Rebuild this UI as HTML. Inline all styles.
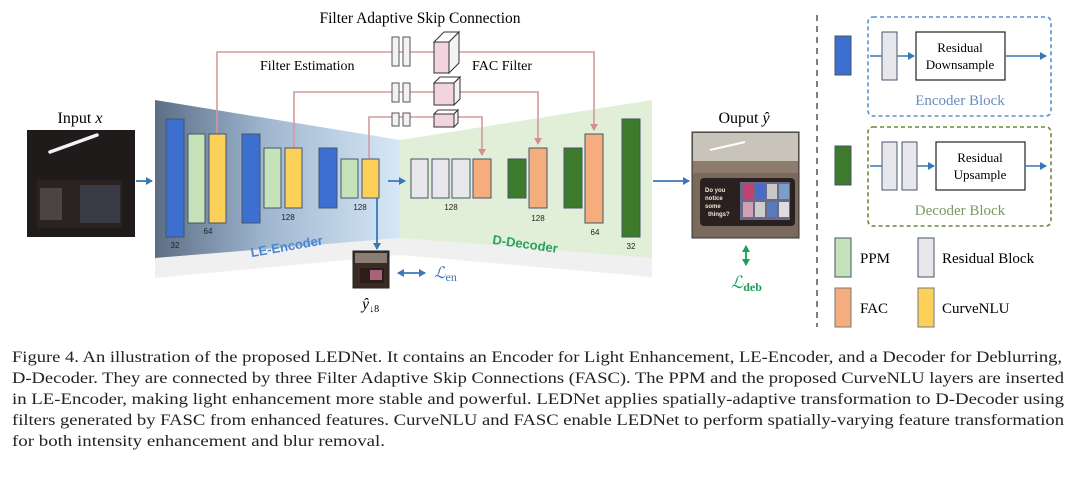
<!DOCTYPE html>
<html><head><meta charset="utf-8"><style>
html,body{margin:0;padding:0;background:#fff;width:1080px;height:477px;overflow:hidden}
svg{display:block}
text{font-family:"Liberation Serif",serif}
text.s{font-family:"Liberation Sans",sans-serif}
</style></head><body>
<svg width="1080" height="477" viewBox="0 0 1080 477" xmlns="http://www.w3.org/2000/svg">
<defs>
<linearGradient id="enc" x1="0" x2="1" y1="0" y2="0">
<stop offset="0" stop-color="#5c6e86"/><stop offset="0.45" stop-color="#9fb6cf"/><stop offset="1" stop-color="#d6e8f7"/></linearGradient>
<marker id="ab" markerWidth="8" markerHeight="8" refX="6" refY="4" orient="auto" markerUnits="userSpaceOnUse"><path d="M0,0 L7,4 L0,8 Z" fill="#3a78b5"/></marker>
<marker id="ar" markerWidth="8" markerHeight="8" refX="6" refY="4" orient="auto" markerUnits="userSpaceOnUse"><path d="M0,0 L7,4 L0,8 Z" fill="#d48f8f"/></marker>
<marker id="ag" markerWidth="8" markerHeight="8" refX="6" refY="4" orient="auto-start-reverse" markerUnits="userSpaceOnUse"><path d="M0,0 L7,4 L0,8 Z" fill="#1f9e5a"/></marker>
<marker id="ab2" markerWidth="8" markerHeight="8" refX="6" refY="4" orient="auto-start-reverse" markerUnits="userSpaceOnUse"><path d="M0,0 L7,4 L0,8 Z" fill="#3a78b5"/></marker>
</defs>

<polygon points="155,258 400,238 400,255 155,278" fill="#f0f0f0"/>
<polygon points="400,238 652,258 652,277 400,255" fill="#f0f0f0"/>
<polygon points="155,100 400,140 400,238 155,258" fill="url(#enc)"/>
<polygon points="400,140 652,100 652,258 400,238" fill="#e1efd9"/>

<g stroke="#d49a9a" stroke-width="1.6" fill="none">
<polyline points="217,133 217,52 594,52 594,130" marker-end="url(#ar)"/>
<polyline points="294,147 294,92 538,92 538,144" marker-end="url(#ar)"/>
<polyline points="369,158 369,117 482,117 482,155" marker-end="url(#ar)"/>
</g>
<g fill="#f2f2f2" stroke="#555" stroke-width="1">
<rect x="392" y="37" width="7" height="29"/><rect x="403" y="37" width="7" height="29"/>
<rect x="392" y="83" width="7" height="19"/><rect x="403" y="83" width="7" height="19"/>
<rect x="392" y="113" width="7" height="13"/><rect x="403" y="113" width="7" height="13"/>
</g>
<g stroke="#333" stroke-width="1">
<polygon points="434,42 444,32 459,32 449,42" fill="#fff"/><polygon points="449,42 459,32 459,63 449,73" fill="#f3f3f3"/>
<rect x="434" y="42" width="15" height="31" fill="#f1d4dc"/>
<polygon points="434,83 440,77 460,77 454,83" fill="#fff"/><polygon points="454,83 460,77 460,99 454,105" fill="#f3f3f3"/>
<rect x="434" y="83" width="20" height="22" fill="#f1d4dc"/>
<polygon points="434,114 438,110 458,110 454,114" fill="#fff"/><polygon points="454,114 458,110 458,123 454,127" fill="#f3f3f3"/>
<rect x="434" y="114" width="20" height="13" fill="#f1d4dc"/>
</g>

<text x="420" y="23" font-size="15.5" text-anchor="middle">Filter Adaptive Skip Connection</text>
<text x="260" y="70" font-size="14">Filter Estimation</text>
<text x="472" y="70" font-size="14">FAC Filter</text>

<g stroke="#44556a" stroke-width="1">
<rect x="166" y="119" width="18" height="118" fill="#3c6fd0"/>
<rect x="188" y="134" width="17" height="89" fill="#c6e2b8"/>
<rect x="209" y="134" width="17" height="89" fill="#fdd05a"/>
<rect x="242" y="134" width="18" height="89" fill="#3c6fd0"/>
<rect x="264" y="148" width="17" height="60" fill="#c6e2b8"/>
<rect x="285" y="148" width="17" height="60" fill="#fdd05a"/>
<rect x="319" y="148" width="18" height="60" fill="#3c6fd0"/>
<rect x="341" y="159" width="17" height="39" fill="#c6e2b8"/>
<rect x="362" y="159" width="17" height="39" fill="#fdd05a"/>
<rect x="411" y="159" width="17" height="39" fill="#e8e8ec"/>
<rect x="432" y="159" width="17" height="39" fill="#e8e8ec"/>
<rect x="452" y="159" width="18" height="39" fill="#e8e8ec"/>
<rect x="473" y="159" width="18" height="39" fill="#f5ad7e"/>
<rect x="508" y="159" width="18" height="39" fill="#3e7a2c"/>
<rect x="529" y="148" width="18" height="60" fill="#f5ad7e"/>
<rect x="564" y="148" width="18" height="60" fill="#3e7a2c"/>
<rect x="585" y="134" width="18" height="89" fill="#f5ad7e"/>
<rect x="622" y="119" width="18" height="118" fill="#3e7a2c"/>
</g>
<g font-size="8" fill="#222" text-anchor="middle">
<text class="s" x="175" y="248">32</text><text class="s" x="208" y="234">64</text><text class="s" x="288" y="220">128</text>
<text class="s" x="360" y="210">128</text><text class="s" x="451" y="210">128</text><text class="s" x="538" y="221">128</text>
<text class="s" x="595" y="235">64</text><text class="s" x="631" y="249">32</text>
</g>
<text class="s" x="250" y="252" font-size="13" fill="#4a86d0" font-weight="bold" transform="rotate(-10 280 246)">LE-Encoder</text>
<text class="s" x="492" y="248" font-size="13" fill="#2aa160" font-weight="bold" transform="rotate(8 522 246)">D-Decoder</text>

<g stroke="#3a78b5" stroke-width="1.8" fill="none">
<line x1="136" y1="181" x2="152" y2="181" marker-end="url(#ab)"/>
<line x1="388" y1="181" x2="405" y2="181" marker-end="url(#ab)"/>
<line x1="653" y1="181" x2="689" y2="181" marker-end="url(#ab)"/>
<line x1="377" y1="198" x2="377" y2="249" marker-end="url(#ab)"/>
<line x1="398" y1="273" x2="425" y2="273" marker-end="url(#ab2)" marker-start="url(#ab2)"/>
</g>
<line x1="746" y1="246" x2="746" y2="265" stroke="#1f9e5a" stroke-width="1.8" marker-end="url(#ag)" marker-start="url(#ag)"/>

<rect x="353" y="251" width="36" height="37" fill="#3a2b22" stroke="#222"/>
<rect x="355" y="253" width="32" height="10" fill="#8a7d73"/>
<rect x="360" y="268" width="24" height="15" fill="#2a1d1a"/>
<rect x="370" y="270" width="12" height="10" fill="#a7637a"/>
<text x="434" y="278" font-size="16" fill="#3a78b5" font-style="italic">ℒ<tspan font-size="12" font-style="normal" dy="3">en</tspan></text>
<text x="362" y="309" font-size="16" font-style="italic">ŷ<tspan font-size="10" font-style="normal" dy="3">↓8</tspan></text>

<text x="80" y="123" font-size="16" text-anchor="middle">Input <tspan font-style="italic">x</tspan></text>
<rect x="27" y="130" width="108" height="107" fill="#1e1b1a"/>
<line x1="50" y1="152" x2="97" y2="135" stroke="#f2f2f2" stroke-width="3.5" stroke-linecap="round"/>
<rect x="37" y="180" width="85" height="48" fill="#2a2321"/>
<rect x="40" y="188" width="22" height="32" fill="#4a4442"/>
<rect x="80" y="185" width="40" height="38" fill="#3a3c45"/>
<text x="744" y="123" font-size="16" text-anchor="middle">Ouput <tspan font-style="italic">ŷ</tspan></text>
<rect x="692" y="132" width="107" height="106" fill="#7a6a5c" stroke="#333"/>
<rect x="693" y="133" width="105" height="28" fill="#c9c4bb"/>
<line x1="710" y1="150" x2="745" y2="142" stroke="#fff" stroke-width="2"/>
<rect x="693" y="161" width="105" height="12" fill="#8d7b6b"/>
<rect x="700" y="178" width="95" height="48" rx="4" fill="#2a2020"/>
<rect x="740" y="182" width="50" height="38" fill="#6a6a88"/>
<rect x="743" y="184" width="10" height="15" fill="#c04070"/><rect x="755" y="184" width="10" height="15" fill="#4a6ac8"/><rect x="767" y="184" width="10" height="15" fill="#c8c8c8"/><rect x="779" y="184" width="10" height="15" fill="#7aa0c8"/>
<rect x="743" y="202" width="10" height="15" fill="#d0a0b0"/><rect x="755" y="202" width="10" height="15" fill="#ccc"/><rect x="767" y="202" width="10" height="15" fill="#5a7ab8"/><rect x="779" y="202" width="10" height="15" fill="#ddd"/>
<g fill="#eee8d0" font-size="6" font-weight="bold"><text class="s" x="705" y="192">Do you</text><text class="s" x="705" y="200">notice</text><text class="s" x="705" y="208">some</text><text class="s" x="708" y="216">things?</text></g>
<text x="731" y="288" font-size="17" fill="#1f9e5a" font-style="italic">ℒ<tspan font-size="12" font-style="normal" font-weight="bold" dy="3">deb</tspan></text>

<line x1="817" y1="15" x2="817" y2="327" stroke="#555" stroke-width="1.5" stroke-dasharray="6,5"/>
<rect x="835" y="36" width="16" height="39" fill="#3c6fd0" stroke="#44556a"/>
<rect x="868" y="17" width="183" height="99" rx="5" fill="none" stroke="#5b8fd0" stroke-width="1.6" stroke-dasharray="4,3"/>
<rect x="882" y="32" width="15" height="48" fill="#e8e8ec" stroke="#44556a"/>
<rect x="916" y="32" width="89" height="48" fill="#fff" stroke="#222" stroke-width="1.2"/>
<text x="960" y="52" font-size="13" text-anchor="middle">Residual</text>
<text x="960" y="69" font-size="13" text-anchor="middle">Downsample</text>
<g stroke="#3a78b5" stroke-width="1.5"><line x1="870" y1="56" x2="882" y2="56"/><line x1="897" y1="56" x2="914" y2="56" marker-end="url(#ab)"/><line x1="1005" y1="56" x2="1046" y2="56" marker-end="url(#ab)"/></g>
<text x="960" y="105" font-size="15" fill="#6a8bbf" text-anchor="middle">Encoder Block</text>

<rect x="835" y="146" width="16" height="39" fill="#3e7a2c" stroke="#44556a"/>
<rect x="868" y="127" width="183" height="99" rx="5" fill="none" stroke="#6a8a3c" stroke-width="1.6" stroke-dasharray="4,3"/>
<rect x="882" y="142" width="15" height="48" fill="#e8e8ec" stroke="#44556a"/>
<rect x="902" y="142" width="15" height="48" fill="#e8e8ec" stroke="#44556a"/>
<rect x="936" y="142" width="89" height="48" fill="#fff" stroke="#222" stroke-width="1.2"/>
<text x="980" y="162" font-size="13" text-anchor="middle">Residual</text>
<text x="980" y="179" font-size="13" text-anchor="middle">Upsample</text>
<g stroke="#3a78b5" stroke-width="1.5"><line x1="870" y1="166" x2="882" y2="166"/><line x1="917" y1="166" x2="934" y2="166" marker-end="url(#ab)"/><line x1="1025" y1="166" x2="1046" y2="166" marker-end="url(#ab)"/></g>
<text x="960" y="215" font-size="15" fill="#7a9a60" text-anchor="middle">Decoder Block</text>

<rect x="835" y="238" width="16" height="39" fill="#c6e2b8" stroke="#44556a"/>
<text x="860" y="263" font-size="15">PPM</text>
<rect x="918" y="238" width="16" height="39" fill="#e8e8ec" stroke="#44556a"/>
<text x="942" y="263" font-size="15">Residual Block</text>
<rect x="835" y="288" width="16" height="39" fill="#f5ad7e" stroke="#777"/>
<text x="860" y="313" font-size="15">FAC</text>
<rect x="918" y="288" width="16" height="39" fill="#fdd05a" stroke="#777"/>
<text x="942" y="313" font-size="15">CurveNLU</text>

<g font-size="16" fill="#222">
<text x="12" y="362" textLength="1050" lengthAdjust="spacingAndGlyphs">Figure 4. An illustration of the proposed LEDNet. It contains an Encoder for Light Enhancement, LE-Encoder, and a Decoder for Deblurring,</text>
<text x="12" y="383" textLength="1052" lengthAdjust="spacingAndGlyphs">D-Decoder. They are connected by three Filter Adaptive Skip Connections (FASC). The PPM and the proposed CurveNLU layers are inserted</text>
<text x="12" y="404" textLength="1052" lengthAdjust="spacingAndGlyphs">in LE-Encoder, making light enhancement more stable and powerful. LEDNet applies spatially-adaptive transformation to D-Decoder using</text>
<text x="12" y="425" textLength="1052" lengthAdjust="spacingAndGlyphs">filters generated by FASC from enhanced features. CurveNLU and FASC enable LEDNet to perform spatially-varying feature transformation</text>
<text x="12" y="446" textLength="373" lengthAdjust="spacingAndGlyphs">for both intensity enhancement and blur removal.</text>
</g>
</svg>
</body></html>
